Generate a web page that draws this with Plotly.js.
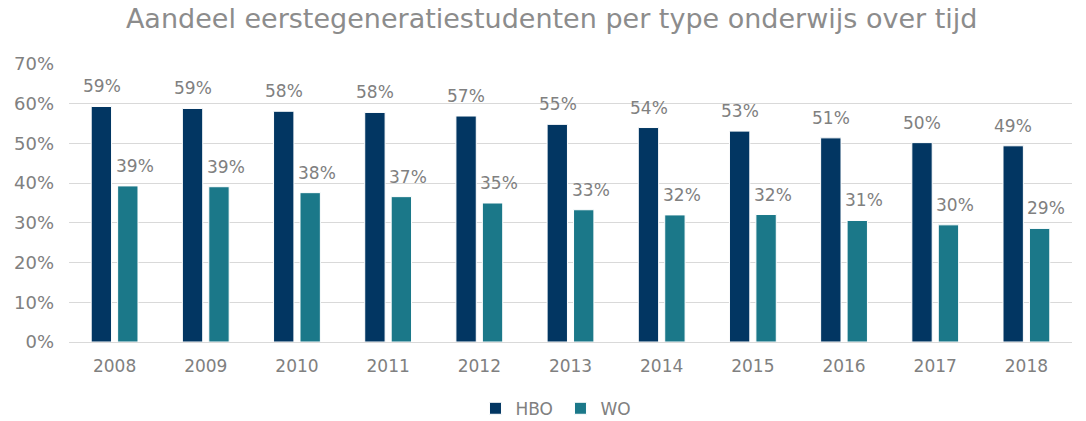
<!DOCTYPE html>
<html>
<head>
<meta charset="utf-8">
<script src="https://cdn.plot.ly/plotly-3.0.1.min.js"></script>
<style>html,body{margin:0;padding:0;background:#fff;}#chart{width:1086px;height:421px;}</style>
</head>
<body>
<div id="chart"></div>
<script>
const years = ['2008','2009','2010','2011','2012','2013','2014','2015','2016','2017','2018'];
const hbo = [59.3, 58.8, 58.1, 57.8, 56.9, 54.8, 54.0, 53.1, 51.4, 50.2, 49.4];
const wo  = [39.3, 39.1, 37.6, 36.6, 35.0, 33.3, 32.0, 32.1, 30.6, 29.5, 28.6];
const yTickVals = [0, 10, 20, 30, 40, 50, 60, 70];
const yTickText = ['0%', '10%', '20%', '30%', '40%', '50%', '60%', '70%'];

const grey = '#808080';
const fontFam = 'DejaVu Sans, Verdana, sans-serif';

const traces = [
  {type: 'bar', name: 'HBO', x: years, y: hbo,
   marker: {color: '#023662', line: {color: '#ffffff', width: 1}}},
  {type: 'bar', name: 'WO', x: years, y: wo,
   marker: {color: '#1b7889', line: {color: '#ffffff', width: 1}}}
];

// data labels placed above each bar (x = category index on the category axis)
function labels(vals, xs) {
  return years.map((yr, i) => ({
    x: i, y: vals[i], xref: 'x', yref: 'y',
    text: vals[i].toFixed(0) + '%', showarrow: false,
    xanchor: 'center', yanchor: 'middle', xshift: xs, yshift: 20,
    font: {family: fontFam, size: 17, color: grey}
  }));
}

const layout = {
  width: 1086, height: 421,
  margin: {l: 69, r: 14, t: 64, b: 79, autoexpand: false},
  paper_bgcolor: '#ffffff', plot_bgcolor: '#ffffff',
  font: {family: fontFam, color: grey},
  title: {text: 'Aandeel eerstegeneratiestudenten per type onderwijs over tijd',
          font: {family: fontFam, size: 27, color: '#8c8c8c'},
          x: 0.508, xanchor: 'center', y: 0.955, yanchor: 'middle'},
  barmode: 'group', bargap: 0.42, bargroupgap: 0.23,
  xaxis: {type: 'category', categoryarray: years, categoryorder: 'array',
          range: [-0.5, years.length - 0.5],
          showgrid: false, ticks: '', showline: false,
          ticklabelstandoff: 12,
          tickfont: {family: fontFam, size: 17, color: grey}},
  yaxis: {range: [0, 70], tickvals: yTickVals, ticktext: yTickText,
          showgrid: true, gridcolor: '#d9d9d9', gridwidth: 1,
          zeroline: true, zerolinecolor: '#d9d9d9', zerolinewidth: 1,
          ticks: '', ticklabelstandoff: 14,
          tickfont: {family: fontFam, size: 18, color: grey}},
  annotations: labels(hbo, -13).concat(labels(wo, 20)),
  showlegend: true,
  legend: {orientation: 'h', x: 0.49, xanchor: 'center', y: -0.24, yanchor: 'middle',
           font: {family: fontFam, size: 17, color: grey}, itemwidth: 30,
           entrywidth: 40, traceorder: 'normal'}
};

Plotly.newPlot('chart', traces, layout, {displayModeBar: false, staticPlot: true});
</script>
</body>
</html>
